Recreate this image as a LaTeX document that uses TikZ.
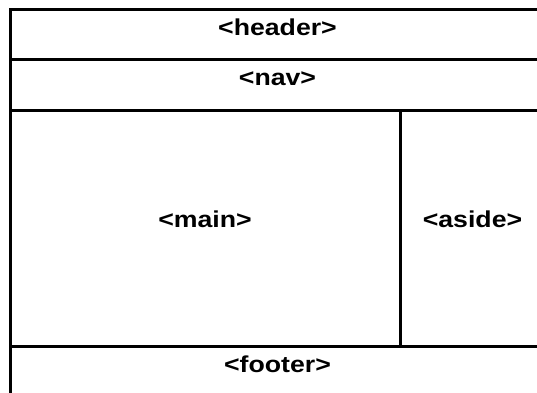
\documentclass[tikz,border=0pt]{standalone}
\usepackage{fontspec}
\setmainfont{Liberation Sans}[BoldFeatures={FakeStretch=1.16}]
\begin{document}
\begin{tikzpicture}[x=1pt,y=-1pt,
  rule/.style={line width=3pt,line cap=rect},
  tag/.style={font=\bfseries\fontsize{23}{27}\selectfont,anchor=base,inner sep=0pt}]
\useasboundingbox (0,0) rectangle (537,392);
\clip (0,0) rectangle (537,392);
% page frame (runs off the right and bottom edges)
\draw[rule] (10,9) rectangle (545,400);
% section dividers
\draw[rule] (10,59) -- (545,59);
\draw[rule] (10,110) -- (545,110);
\draw[rule] (10,346) -- (545,346);
\draw[rule] (400,110) -- (400,346);
% section labels
\node[tag] (header) at (277.5,35) {<header>};
\node[tag] (nav) at (277.5,85) {<nav>};
\node[tag] (main) at (205,227) {<main>};
\node[tag] (aside) at (472.5,227) {<aside>};
\node[tag] (footer) at (277.5,372) {<footer>};
\end{tikzpicture}
\end{document}
